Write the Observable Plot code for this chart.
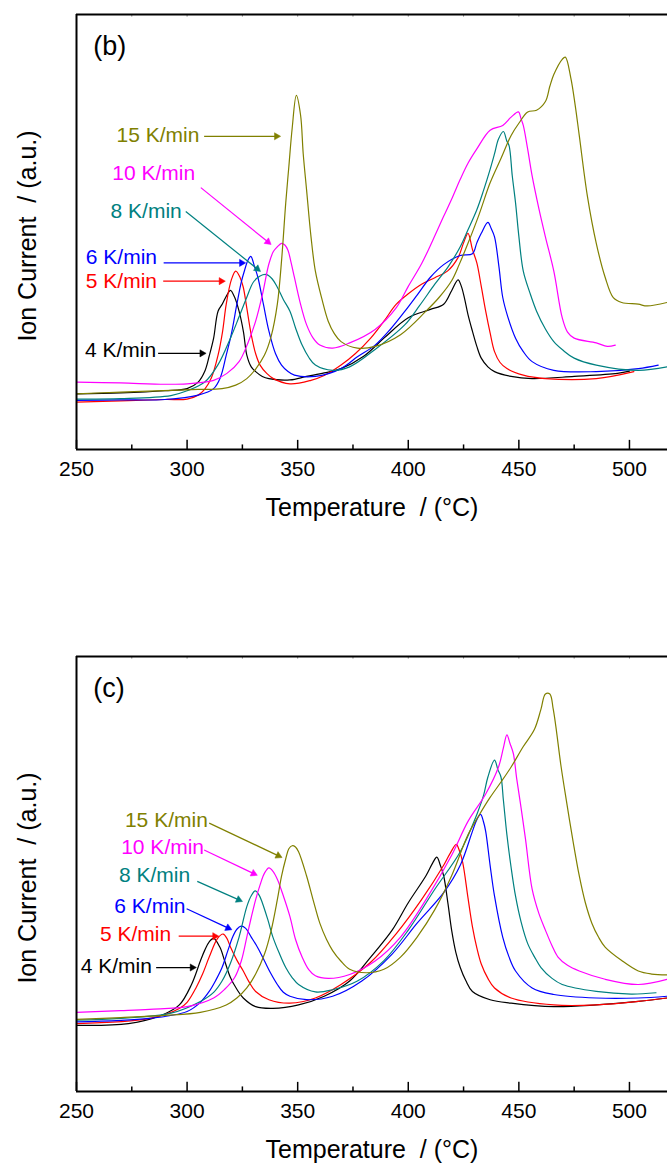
<!DOCTYPE html>
<html><head><meta charset="utf-8">
<script src="https://cdn.jsdelivr.net/npm/d3@7"></script>
<script src="https://cdn.jsdelivr.net/npm/@observablehq/plot@0.6"></script>
<style>body{margin:0;background:#fff} #chart svg{display:block}</style>
</head><body><div id="chart"></div>
<script>
const rates = ["4 K/min","5 K/min","6 K/min","8 K/min","10 K/min","15 K/min"];
const colors = ["#000000","#ff0000","#0000ff","#008080","#ff00ff","#808000"];
const xTicks = [250,300,350,400,450,500];
const xMinorTicks = [275,325,375,425,475];
const xTopTicks = [275,300,325,350,375,400,425,450,475,500];

// Panel (b): [temperature °C, ion current (a.u., % of panel height)]
const b4 = [[250,12.8],[270,13],[290,13.5],[300,14],[305,15.5],[308,18],[310,21.5],[312,25.6],[314,31.8],[316,33.5],[318,35.5],[319.6,36.6],[321.5,35],[323.5,31.8],[325.5,27],[327,21.7],[329,19],[331,17.9],[334,16.8],[337,16.3],[346.5,16],[354,16.8],[362,17.6],[369.6,18.6],[380,21.5],[389,25.6],[400,30.3],[410,32.2],[416,33.4],[419.6,36.5],[422.5,39],[424,37.5],[425.4,34.8],[427,31],[429,27.2],[431,23.7],[433,21],[436,19],[439,17.9],[446.5,16.8],[456,16.3],[475,16.8],[494.6,17.5],[500,18]];
const b5 = [[250,10.9],[270,11.2],[290,11.5],[300,11.6],[305,12.5],[308,13.9],[311,16.5],[314,21.7],[316,27],[317.7,33.4],[320,39],[322,41],[324,39.5],[325.4,37.3],[327,32.5],[329,26.4],[331,22],[333,19.4],[336,17.5],[339,16.3],[346.5,15.1],[356,15.9],[362,17],[369.6,19.4],[376,22],[383,25.6],[389,29.5],[394.6,33.4],[400,35.8],[406,38],[412,39.5],[417.7,41],[422.5,44.1],[425,47.5],[427,49.7],[429,46],[431,42.9],[433,37.5],[435,31.8],[437,26.8],[439,22.5],[441.5,20],[444.6,18.6],[452,17.1],[462,16.3],[485,16.3],[502,17.9]];
const b6 = [[250,11.3],[270,11.4],[290,11.5],[305,12.5],[312,14],[315,16.5],[317.7,21.7],[320,26.5],[322.5,33.4],[324.5,38.5],[326,41.2],[327.5,43.5],[328.8,44.4],[330.5,42],[332,39.6],[334.5,33.4],[337,27.2],[340,22],[342.7,19.4],[345.5,18],[348.5,17.1],[358,16.8],[369.6,18.6],[377,21.3],[385,24],[392,27.7],[398.5,31.8],[404,35.5],[410,39.6],[416,42.5],[423.5,44.6],[429,45],[431,47.5],[433,49.7],[436,52.2],[437.5,50.8],[439,48.9],[441,42],[442.7,35],[445,30.5],[448.5,25.6],[452,22.5],[456,20.2],[465.8,18.2],[485,17.9],[504,18.6],[513,19.4]];
const b8 = [[250,11.6],[270,11.7],[292.7,12.4],[300,13.5],[308,15.5],[314,19.5],[319.6,25.6],[323.5,30.5],[327,35],[330,38.5],[333,39.9],[336,40.2],[338.5,39.2],[340.8,37.3],[343.5,34.5],[346.5,31.8],[349,28],[352,24],[355,21.2],[358,19.4],[365.8,18.2],[373.5,19],[385,23],[398.5,28.7],[405,33],[412,38],[418,42],[423.5,46.6],[427,50.5],[431,55.1],[434,59.5],[437,64.4],[439,68],[440.8,71.4],[443,73.1],[444.5,71],[445.6,69.8],[447,63],[448.5,56.7],[450,49],[452,41],[455,36],[458,31.8],[462,27.7],[465.8,24.8],[470,22.8],[475,21],[485,19.4],[504,18.2],[517,19]];
const b10 = [[250,15.5],[270,15.3],[290,15],[300,15.1],[312,15.9],[318,17.5],[323.5,20.2],[327.5,24.5],[331,29.5],[334,35.5],[337,42.7],[339,45.5],[340.8,46.6],[342.7,47.4],[344.2,47],[345.6,45.8],[347,43],[348.5,39.6],[351,34],[354,28.7],[357,25.6],[360,24],[365.8,23.3],[373.5,24.5],[385,27.6],[394.6,32.6],[400,37.5],[406,42.7],[411,48],[416,53.6],[420,58],[423.5,62.1],[427,65.8],[431,69.1],[437,73.4],[442.7,74.5],[446.5,76.4],[449.8,77.6],[451,76],[452,74.5],[454,69],[456,62.9],[459,55.5],[462,48.9],[465.8,41],[469.6,30.3],[472,27],[475,25.6],[485,24.5],[490,23.7],[493.6,24]];
const b15 = [[250,12.8],[270,13.2],[292.7,13.6],[305,13.8],[315.8,14],[322,14.8],[327,16.3],[331,18.5],[335,21.7],[338,26],[340.8,33.4],[342.8,44],[344.6,56.7],[346,65],[347.5,73.8],[349.4,81.4],[351.3,76.9],[352.5,68],[354,59.8],[356,49],[358,41],[361,34.5],[363.8,29.5],[366.5,26.7],[369.6,24.8],[377,23.3],[385,23.7],[396.5,26.4],[408,31.8],[414,35],[419.6,38.8],[423,42.5],[427,47.4],[432,54],[437,61.3],[442,67],[446.5,72.2],[450,75],[454,77.6],[458,78],[462,80],[464,83.5],[465.8,86.2],[469.6,89.7],[471,90.2],[473.5,85.4],[475.5,79],[477.3,72.2],[481,58.2],[485,47.4],[489,39.6],[492.7,34.9],[496.5,33.8],[504,33.4],[508,33],[517,33.8]];

// Panel (c)
const c4 = [[250,15.2],[273.5,15.6],[288.8,17.6],[296.5,19.9],[302,24.6],[306,30],[308,32.5],[310,34.4],[312,35.2],[314.8,33.2],[317,30],[319.6,26.2],[322.5,23.5],[325.4,21.5],[331,19.5],[338.8,19.1],[350.4,19.9],[362,21.9],[373.5,25.4],[383,30.9],[392.7,37.1],[400,43.4],[408,49.6],[411,52.5],[412.9,53.9],[414.5,52],[416,49.6],[418,43],[419.6,37.1],[421.5,32],[423.5,28.5],[426,25.5],[429,23],[437,21.1],[446.5,20.3],[465.8,19.5],[485,19.9],[504,20.7],[517,21.5]];
const c5 = [[250,15.6],[283,16.8],[296.5,19.1],[300,20.5],[304,23.8],[307,27],[310,30.9],[313.8,35.2],[316.3,36.2],[318,35.2],[319.6,33.2],[322.5,30.2],[325.4,27.7],[328,25.2],[331,23],[337,21.1],[346.5,20.3],[358,21.5],[369.6,24.6],[383,29.7],[394.6,36.3],[406,44.1],[416,52],[419,54.8],[421.7,56.8],[423,55.5],[424.6,52.7],[427,44.5],[429,37.9],[431,33],[433,29.3],[436,26],[439,23.8],[446.5,21.5],[465.8,19.9],[485,19.9],[504,20.7],[517,21.5]];
const c6 = [[250,16],[283,16.8],[300,18.4],[306,20.5],[310,23],[313,25.6],[315.8,28.5],[318.5,32.5],[320.6,35.5],[322.5,37.3],[324.4,38],[326.5,37.5],[329,35.5],[332,33],[335,30],[338,27],[340.8,24.6],[343.5,22.8],[346.5,21.9],[354,21.1],[365.8,21.9],[379,25.4],[392.7,31.6],[404,38.7],[416,45.7],[423.5,52],[429,59.8],[431,62.5],[432.7,63.7],[434,62],[435,59.8],[437,52],[439,44.9],[442.7,35.5],[445.5,31],[448.5,27.7],[456,23.8],[465.8,22.3],[485,21.5],[504,21.5],[517,21.9]];
const c8 = [[250,16.4],[270,16.8],[292.7,18],[306,20.7],[312,22.8],[315.8,25.4],[319.6,29.5],[323.5,35.5],[327,42.5],[329,45],[330.8,46.1],[332.5,45.2],[334,43.4],[336.5,39.5],[338.8,35.5],[341.5,32],[344.6,28.5],[347.5,26.2],[350.4,24.6],[358,22.9],[365.8,23.4],[377,25.4],[389,30.1],[400,37.1],[412,46.5],[423.5,55.1],[431,63.7],[434,68],[436,72.3],[439,76.2],[440.5,74],[441.9,72.3],[443,67],[444.6,59],[446.5,51.5],[448.5,44.9],[451,39],[454,34],[457,31],[460,28.5],[465,26],[469.6,24.6],[485,23],[500.8,22.4],[512,22.7]];
const c10 = [[250,18.2],[270,18.6],[283,18.9],[300,19.5],[312,21.5],[317,23.5],[321.5,26.2],[324.5,30],[327,35.5],[329,40],[331,44.1],[333,47.5],[335,50.2],[337,51.4],[339,50.5],[340.8,48.8],[343.5,45],[346.5,40.2],[349,35],[352,30.9],[355,28],[358,26.6],[363.8,26],[373.5,26.9],[385,30],[396.5,35.5],[408,44.1],[419.6,54.3],[427,62.1],[435,68.4],[440.8,74.6],[443,79],[444.6,82],[446,80],[447.5,77.7],[449,72],[451,65.2],[453,58],[456,46.5],[459,41],[462,37.1],[465,33.5],[467.7,30.9],[472,29],[477.3,27.7],[489,25.8],[504,24.6],[517,25.8]];
const c15 = [[250,16.6],[270,17],[290,17.5],[306,18.2],[317.7,19.9],[322.5,21.5],[327,23.8],[331,27],[335,31.6],[338,37],[340.8,44.1],[342.7,49.5],[344.6,53.5],[346,55.8],[347.5,56.5],[349,56.2],[350.4,55.1],[354,49.6],[357,44],[360,38.7],[363,35],[365.8,32.4],[369.5,30],[373.5,28.1],[381,27.3],[389,28.1],[396.5,30.9],[404,35.5],[412,41.8],[419.6,49.6],[427,59],[432,63.5],[437,67.6],[442,71.2],[446.5,74.6],[452,79.3],[457,83.2],[460,87.9],[462,91.4],[464,91.4],[465.5,88],[466.7,84],[469,75],[471.5,66.8],[474.5,57.5],[477.3,49.6],[480,43.5],[483,38.7],[486,35.5],[489,33.2],[496.5,30.1],[504,27.7],[510,27],[517,26.8]];

// Annotations: label start (tx, ty) and arrow (x1,y1)->(x2,y2), in data units
const annB = [
  {rate:"15 K/min", tx:268.1, ty:72.2, x1:307.7, y1:72, x2:342.7, y2:72},
  {rate:"10 K/min", tx:266.2, ty:63.5, x1:306.2, y1:60.2, x2:338.3, y2:47},
  {rate:"8 K/min", tx:265.4, ty:54.7, x1:299.4, y1:54.7, x2:333.5, y2:40.8},
  {rate:"6 K/min", tx:254.2, ty:44.1, x1:289.4, y1:42.9, x2:326.9, y2:42.9},
  {rate:"5 K/min", tx:254.2, ty:38.7, x1:289.2, y1:38.7, x2:317.7, y2:38.7},
  {rate:"4 K/min", tx:253.8, ty:22.9, x1:286.9, y1:22.1, x2:309, y2:22.1}
];
const annC = [
  {rate:"15 K/min", tx:271.9, ty:62.3, x1:310, y1:61.7, x2:343.3, y2:53.7},
  {rate:"10 K/min", tx:270.2, ty:56.1, x1:307.7, y1:55.5, x2:332.1, y2:49.6},
  {rate:"8 K/min", tx:269.2, ty:49.8, x1:304.6, y1:48.3, x2:325.4, y2:43.6},
  {rate:"6 K/min", tx:267.1, ty:42.6, x1:299.8, y1:42, x2:320.6, y2:37.1},
  {rate:"5 K/min", tx:260.6, ty:36.1, x1:296.2, y1:35.7, x2:314.8, y2:35.7},
  {rate:"4 K/min", tx:251.9, ty:28.7, x1:286, y1:28.5, x2:304.6, y2:28.5}
];

const FONT = "Arial, 'Liberation Sans', Helvetica, sans-serif";
const WIDTH = 667, ML = 76, PLOT_H = 435;
const X_DOMAIN = [250, 517.2], Y_DOMAIN = [0, 100];

function panel(letter, series, ann, height, marginTop, marginBottom) {
  const rows = [];
  series.forEach((s, i) => s.forEach(([T, v]) => rows.push({T, v, rate: rates[i]})));
  // pixel per data unit (for orienting filled arrowheads)
  const kx = (WIDTH - ML) / (X_DOMAIN[1] - X_DOMAIN[0]);
  const ky = PLOT_H / (Y_DOMAIN[1] - Y_DOMAIN[0]);
  const heads = ann.map(a => {
    const dx = (a.x2 - a.x1) * kx, dy = -(a.y2 - a.y1) * ky;
    const L = Math.hypot(dx, dy), ux = dx / L, uy = dy / L;
    const back = 5;
    return {rate: a.rate, x: a.x2 - ux * back / kx, y: a.y2 + uy * back / ky,
            angle: Math.atan2(uy, ux) * 180 / Math.PI + 90,
            lx: a.x2 - ux * 6 / kx, ly: a.y2 + uy * 6 / ky, x1: a.x1, y1: a.y1};
  });
  return Plot.plot({
    width: WIDTH, height, marginLeft: ML, marginRight: 0, marginTop, marginBottom,
    style: {fontFamily: FONT, background: "#fff", color: "#000", overflow: "visible"},
    x: {domain: X_DOMAIN},
    y: {domain: Y_DOMAIN, axis: null},
    color: {domain: rates, range: colors},
    marks: [
      Plot.line(rows, {x: "T", y: "v", z: "rate", stroke: "rate", strokeWidth: 1.2, curve: "catmull-rom", clip: true}),
      Plot.ruleX(xTicks, {x: d => d, y1: 0, y2: 2.1, stroke: "#000", strokeWidth: 1.5}),
      Plot.ruleX(xMinorTicks, {x: d => d, y1: 0, y2: 1.05, stroke: "#000", strokeWidth: 1.5}),
      Plot.ruleX(xTopTicks, {x: d => d, y1: 100, y2: 99.4, stroke: "#888", strokeWidth: 1}),
      Plot.ruleX([250], {y1: 0, y2: 100, stroke: "#000", strokeWidth: 2}),
      Plot.ruleY([0], {stroke: "#000", strokeWidth: 2}),
      Plot.ruleY([100], {stroke: "#000", strokeWidth: 2}),
      Plot.axisX({ticks: xTicks, tickSize: 0, tickPadding: 12, fontSize: 21, tickFormat: d => String(d), label: null}),
      Plot.text(["Temperature \u00a0/ (\u00b0C)"], {frameAnchor: "bottom", text: d => d, dy: 58, fontSize: 25, lineAnchor: "middle"}),
      Plot.text(["Ion Current \u00a0/ (a.u.)"], {frameAnchor: "left", text: d => d, rotate: -90, dx: -49, dy: 4, fontSize: 25, textAnchor: "middle", lineAnchor: "middle"}),
      Plot.text([letter], {x: 257.6, y: 92.6, text: d => d, textAnchor: "start", lineAnchor: "middle", fontSize: 27}),
      Plot.link(heads, {x1: "x1", y1: "y1", x2: "lx", y2: "ly", stroke: "rate", strokeWidth: 1.2}),
      Plot.dot(heads, {x: "x", y: "y", symbol: "triangle2", r: 3.4, fill: "rate", stroke: "rate", strokeWidth: 0.5, rotate: "angle"}),
      Plot.text(ann, {x: "tx", y: "ty", text: "rate", fill: "rate", textAnchor: "start", lineAnchor: "middle", fontSize: 21})
    ]
  });
}

const chart = document.getElementById("chart");
chart.append(panel("(b)", [b4, b5, b6, b8, b10, b15], annB, 530, 14, 81));
chart.append(panel("(c)", [c4, c5, c6, c8, c10, c15], annC, 634, 126, 73));
</script>
</body></html>
